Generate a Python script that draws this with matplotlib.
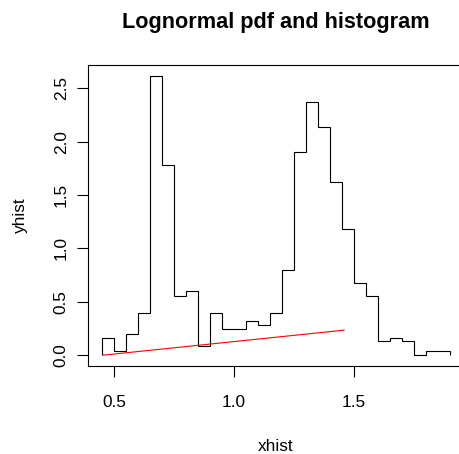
import numpy as np
import matplotlib
matplotlib.use("Agg")
import matplotlib.pyplot as plt

# histogram bins (0.05 wide) and densities
xhist = [0.45, 0.50, 0.55, 0.60, 0.65, 0.70, 0.75, 0.80, 0.85, 0.90,
         0.95, 1.00, 1.05, 1.10, 1.15, 1.20, 1.25, 1.30, 1.35, 1.40,
         1.45, 1.50, 1.55, 1.60, 1.65, 1.70, 1.75, 1.80, 1.85, 1.90]
yhist = [0.159, 0.043, 0.199, 0.399, 2.618, 1.785, 0.555, 0.602, 0.087, 0.399,
         0.243, 0.243, 0.315, 0.284, 0.399, 0.799, 1.900, 2.372, 2.141, 1.626,
         1.186, 0.674, 0.558, 0.128, 0.159, 0.128, 0.000, 0.043, 0.043]

# fitted lognormal pdf
xfit = [0.455, 1.46]
yfit = [0.0, 0.234]

xticks = [0.5, 1.0, 1.5]
yticks = [0.0, 0.5, 1.0, 1.5, 2.0, 2.5]

plt.rcParams['font.family'] = ['Liberation Sans', 'DejaVu Sans']
fs = 12.4

fig = plt.figure(figsize=(4.59, 4.54), dpi=100)
W, H = 459.0, 454.0
left, right, top, bottom = 88.4, 463.4, 64.5, 366.3
ax = fig.add_axes([left / W, (H - bottom) / H, (right - left) / W, (bottom - top) / H])

ax.stairs(yhist, xhist, baseline=0, color='black', lw=0.8)
ax.plot(xfit, yfit, color='red', lw=0.8)

# R style 4% padding
xr = xhist[-1] - xhist[0]
yr = max(yhist) - 0
ax.set_xlim(xhist[0] - 0.04 * xr, xhist[-1] + 0.04 * xr)
ax.set_ylim(-0.04 * yr, max(yhist) + 0.04 * yr)

ax.set_xticks(xticks)
ax.set_xticklabels(['%.1f' % v for v in xticks])
ax.set_yticks(yticks)
ax.set_yticklabels(['%.1f' % v for v in yticks])
plt.setp(ax.get_yticklabels(), rotation=90, va='center')

ax.tick_params(axis='x', direction='out', length=7.6, width=0.8, pad=13.2, labelsize=fs)
ax.tick_params(axis='y', direction='out', length=7.6, width=0.8, pad=6.5, labelsize=fs)
for s in ax.spines.values():
    s.set_linewidth(0.8)
    s.set_color('black')

ax.set_xlabel('xhist', fontsize=fs)
ax.xaxis.set_label_coords(0.5, (bottom - 450.7) / (bottom - top))
ax.xaxis.label.set_va('baseline')
ax.set_ylabel('yhist', fontsize=fs)
ax.yaxis.set_label_coords((25.0 - left) / (right - left), 0.5)
ax.yaxis.label.set_va('baseline')

ax.set_title('Lognormal pdf and histogram', fontsize=15.6, fontweight='bold',
             y=(bottom - 28.3) / (bottom - top), va='baseline', pad=0)

fig.savefig('out.png', dpi=100)
